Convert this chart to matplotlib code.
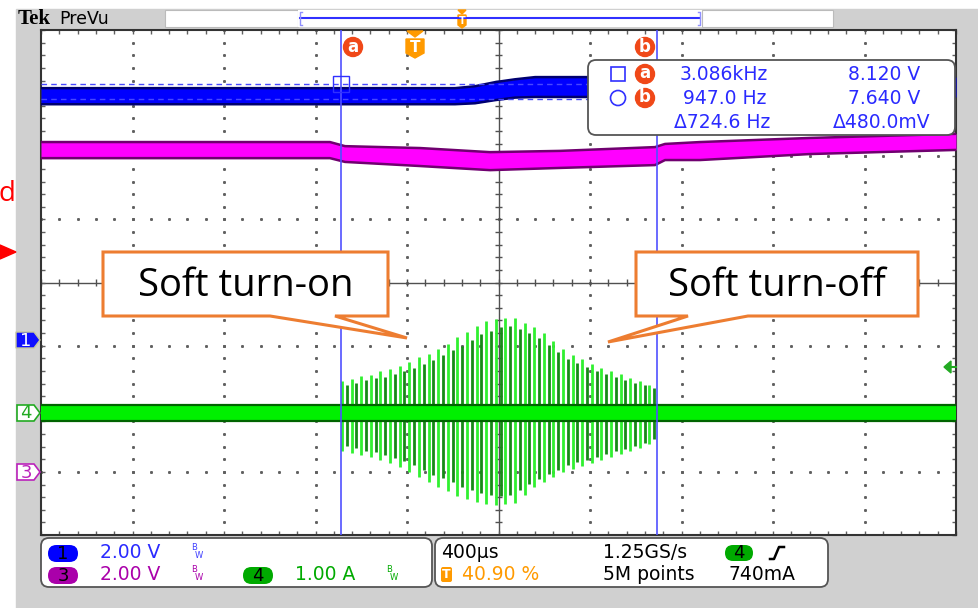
import numpy as np
import matplotlib.pyplot as plt
from matplotlib.patches import Polygon, FancyBboxPatch, Circle, Rectangle

# ----- datos -----
TIME_PER_DIV = 400.0     # us/div
TRIG_POS = 40.90         # % de pantalla
CH_SCALE = {1: 2.0, 3: 2.0, 4: 1.0}          # V/div, V/div, A/div
CH_OFFSET = {1: -0.911, 3: -3.0, 4: -2.067}  # div

# canal 1 (azul), banda de ruido: tiempo [us], borde sup/inf [V]
ch1_t = [-1636, 174, 261, 349, 436, 524, 633, 2364]
ch1_top = [7.98, 7.98, 8.04, 8.17, 8.26, 8.33, 8.33, 8.33]
ch1_bot = [7.47, 7.47, 7.50, 7.60, 7.68, 7.70, 7.70, 7.70]

# canal 3 (magenta)
ch3_t = [-1636, -373, -307, 21, 327, 633, 1048, 1092, 1245, 1726, 2364]
ch3_top = [10.45, 10.45, 10.32, 10.26, 10.13, 10.17, 10.29, 10.39, 10.45, 10.58, 10.71]
ch3_bot = [9.94, 9.94, 9.82, 9.69, 9.56, 9.63, 9.72, 9.88, 9.88, 10.07, 10.20]

# canal 4 (verde, corriente), linea base
ch4_t = [-1636, 2364]
ch4_top = [0.13, 0.13]
ch4_bot = [-0.13, -0.13]

# pulsos de la rafaga: tiempo [us], pico superior / inferior [A]
burst_t = [-320, -299, -278, -257, -236, -215, -194, -173, -152, -131, -110,
           -89, -68, -47, -26, -5, 16, 37, 58, 79, 100, 121, 142, 163, 184,
           205, 226, 247, 268, 289, 310, 331, 352, 373, 394, 415, 436, 457,
           478, 499, 520, 541, 562, 583, 604, 625, 646, 667, 688, 709, 730,
           751, 772, 793, 814, 835, 856, 877, 898, 919, 940, 961, 982, 1003,
           1024, 1045]
burst_up = [0.50, 0.44, 0.54, 0.47, 0.58, 0.52, 0.60, 0.55, 0.66, 0.57, 0.70,
            0.62, 0.74, 0.66, 0.81, 0.72, 0.88, 0.78, 0.94, 0.84, 1.01, 0.92,
            1.10, 0.99, 1.20, 1.06, 1.29, 1.15, 1.37, 1.25, 1.45, 1.30, 1.49,
            1.36, 1.51, 1.38, 1.50, 1.33, 1.43, 1.26, 1.36, 1.18, 1.26, 1.08,
            1.14, 0.97, 1.02, 0.86, 0.92, 0.79, 0.85, 0.73, 0.78, 0.66, 0.71,
            0.62, 0.66, 0.57, 0.61, 0.53, 0.56, 0.48, 0.50, 0.44, 0.45, 0.40]
burst_low = [-0.60, -0.52, -0.63, -0.56, -0.66, -0.60, -0.70, -0.62, -0.75,
             -0.66, -0.80, -0.71, -0.86, -0.76, -0.93, -0.83, -1.01, -0.90,
             -1.09, -0.98, -1.17, -1.03, -1.24, -1.10, -1.31, -1.17, -1.37,
             -1.22, -1.41, -1.27, -1.44, -1.30, -1.45, -1.31, -1.44, -1.30,
             -1.42, -1.22, -1.30, -1.12, -1.18, -1.04, -1.10, -0.96, -1.02,
             -0.90, -0.94, -0.82, -0.88, -0.78, -0.84, -0.74, -0.79, -0.70,
             -0.75, -0.65, -0.70, -0.61, -0.65, -0.57, -0.60, -0.52, -0.55,
             -0.47, -0.49, -0.42]

# cursores
cursor_t = [-324, 1056]
cursor_v = [8.120, 7.640]
cursor_names = ['a', 'b']
readout_rows = [('3.086kHz', '8.120 V'), ('947.0 Hz', '7.640 V'), ('\u0394724.6 Hz', '\u0394480.0mV')]

callouts = ['Soft turn-on', 'Soft turn-off']

# barra de estado
ch_labels = [('1', '2.00 V'), ('3', '2.00 V'), ('4', '1.00 A')]
timebase = '400\u00b5s'
trig_pct = '40.90 %'
sample_rate = '1.25GS/s'
record_len = '5M points'
trig_level = '740mA'

# colores
BLUE = '#0000ff'
MAGENTA = '#ff00ff'
GREEN = '#00f000'
ORANGE = '#ed7d31'
TEK_ORANGE = '#ff9a00'
CURSOR_RED = '#f04818'
GRAY_BG = '#d0d0d0'


def xdiv(t):
    return np.asarray(t, dtype=float) / TIME_PER_DIV + TRIG_POS / 10.0


def ydiv(v, ch):
    return np.asarray(v, dtype=float) / CH_SCALE[ch] + CH_OFFSET[ch]


W, H = 979, 608
fig = plt.figure(figsize=(W / 100, H / 100), dpi=100)
fig.patch.set_facecolor('white')

# lienzo de fondo en pixeles
bg = fig.add_axes([0, 0, 1, 1], zorder=0)
bg.set_xlim(0, W)
bg.set_ylim(H, 0)
bg.axis('off')
bg.add_patch(Rectangle((16, 9), W - 16, H - 9, color=GRAY_BG))

# ----- pantalla del osciloscopio -----
ax = fig.add_axes([41 / W, (H - 535) / H, 915 / W, 505 / H], zorder=2)
ax.set_xlim(0, 10)
ax.set_ylim(-4, 4)
ax.set_facecolor('white')
minor_x = np.arange(0, 10.001, 0.2)
minor_y = np.arange(-4, 4.001, 0.2)
ax.set_xticks(minor_x)
ax.set_yticks(minor_y)
ax.tick_params(direction='in', length=3, width=1, color='#606060',
               top=True, right=True, labelbottom=False, labelleft=False)
for s in ax.spines.values():
    s.set_color('#333333')
    s.set_linewidth(1.5)

for i in range(1, 10):
    if i == 5:
        continue
    ax.plot(np.full_like(minor_y, i), minor_y, ls='none', marker='s', ms=1.1,
            color='#606060', zorder=1)
for j in range(-3, 4):
    if j == 0:
        continue
    ax.plot(minor_x, np.full_like(minor_x, j), ls='none', marker='s', ms=1.1,
            color='#606060', zorder=1)
ax.axhline(0, color='#505050', lw=1, zorder=1)
ax.axvline(5, color='#505050', lw=1, zorder=1)
ax.vlines(minor_x, -0.05, 0.05, color='#505050', lw=1, zorder=1)
ax.hlines(minor_y, 4.965, 5.035, color='#505050', lw=1, zorder=1)

# trazas
x1 = xdiv(ch1_t)
ax.fill_between(x1, ydiv(ch1_bot, 1), ydiv(ch1_top, 1), color=BLUE, lw=0, zorder=3)
ax.plot(x1, ydiv(ch1_top, 1), color='#000070', lw=1.8, zorder=3)
ax.plot(x1, ydiv(ch1_bot, 1), color='#000070', lw=1.8, zorder=3)

x3 = xdiv(ch3_t)
ax.fill_between(x3, ydiv(ch3_bot, 3), ydiv(ch3_top, 3), color=MAGENTA, lw=0, zorder=3)
ax.plot(x3, ydiv(ch3_top, 3), color='#700070', lw=1.8, zorder=3)
ax.plot(x3, ydiv(ch3_bot, 3), color='#700070', lw=1.8, zorder=3)

xb = xdiv(burst_t)
shade = ['#30f030' if k % 2 == 0 else '#168a16' for k in range(len(burst_t))]
ax.vlines(xb, ydiv(burst_low, 4), ydiv(burst_up, 4), colors=shade, lw=2.0, zorder=3)

x4 = xdiv(ch4_t)
ax.fill_between(x4, ydiv(ch4_bot, 4), ydiv(ch4_top, 4), color=GREEN, lw=0, zorder=4)
ax.plot(x4, ydiv(ch4_top, 4), color='#006400', lw=1.6, zorder=4)
ax.plot(x4, ydiv(ch4_bot, 4), color='#006400', lw=1.6, zorder=4)

# cursores
for t in cursor_t:
    ax.axvline(xdiv(t), color='#5050ff', lw=1.2, zorder=5)
for v in cursor_v:
    ax.axhline(ydiv(v, 1), color='#4848ff', lw=1, ls=(0, (4, 3)), zorder=5)
ax.plot(xdiv(cursor_t[0]), ydiv(cursor_v[0], 1), marker='s', ms=11, mfc='none',
        mec='#3030ff', mew=1, zorder=5)

# ----- capa superior en pixeles -----
ov = fig.add_axes([0, 0, 1, 1], zorder=5)
ov.set_xlim(0, W)
ov.set_ylim(H, 0)
ov.patch.set_alpha(0)
ov.axis('off')


def tek_text(x, y, s, color='black', size=13.5, ha='left', **kw):
    ov.text(x, y, s, color=color, fontsize=size, ha=ha, va='center',
            family='DejaVu Sans', **kw)


def pill(cx, cy, w, h, fc, label):
    ov.add_patch(FancyBboxPatch((cx - w / 2, cy - h / 2), w, h,
                                boxstyle='round,pad=0,rounding_size=%g' % (h / 2),
                                fc=fc, ec='none'))
    tek_text(cx, cy + 0.5, label, size=13, ha='center')


def rounded_box(x0, y0, x1, y1):
    ov.add_patch(FancyBboxPatch((x0, y0), x1 - x0, y1 - y0,
                                boxstyle='round,pad=0,rounding_size=8',
                                fc='white', ec='#555555', lw=1.3))


# barra superior
ov.text(18, 19, 'Tek', fontsize=15, fontweight='bold', family='Liberation Serif',
        va='center', ha='left', color='black')
tek_text(59, 19, 'PreVu', size=12.5)
ov.add_patch(Rectangle((165, 10), 133, 17, fc='white', ec='#bbbbbb', lw=0.8))
ov.add_patch(Rectangle((298, 10), 404, 17, fc='white', ec='none'))
ov.plot([300, 700], [18, 18], color='#3030ff', lw=1.5)
ov.plot([302, 300, 300, 302], [12, 12, 25, 25], color='#9090ff', lw=1)
ov.plot([698, 700, 700, 698], [12, 12, 25, 25], color='#9090ff', lw=1)
ov.add_patch(Rectangle((702, 10), 131, 17, fc='white', ec='#bbbbbb', lw=0.8))
ov.add_patch(Polygon([(458, 10), (466, 10), (462, 14)], color=TEK_ORANGE))
ov.add_patch(Polygon([(458, 15), (466, 15), (466, 25), (462, 28), (458, 25)], color=TEK_ORANGE))
ov.text(462, 20.5, 'T', fontsize=7, fontweight='bold', color='white', ha='center', va='center')

# marcador de disparo y cursores
ov.add_patch(Polygon([(407, 31), (423, 31), (415, 37)], color=TEK_ORANGE))
ov.add_patch(Polygon([(406, 39), (424, 39), (424, 53), (415, 58), (406, 53)], color=TEK_ORANGE))
ov.text(415, 47, 'T', fontsize=11, fontweight='bold', color='white', ha='center', va='center')
for cx, name in zip([353, 645], cursor_names):
    ov.add_patch(Circle((cx, 47), 9.5, color=CURSOR_RED))
    ov.text(cx, 46.5, name, fontsize=12, fontweight='bold', color='white', ha='center', va='center')

# lectura de cursores
rounded_box(588, 60, 955, 135)
ov.add_patch(Rectangle((611, 67), 14, 14, fc='none', ec='#3030ff', lw=1.2))
ov.add_patch(Circle((618, 98), 7.5, fc='none', ec='#3030ff', lw=1.2))
for cy, name in zip([74, 98], cursor_names):
    ov.add_patch(Circle((645, cy), 9.5, color=CURSOR_RED))
    ov.text(645, cy - 0.5, name, fontsize=12, fontweight='bold', color='white', ha='center', va='center')
for (left, right), cy, lx, rx in zip(readout_rows, [74, 98, 122], [680, 683, 674], [848, 848, 833]):
    tek_text(lx, cy, left, color='#2a2aff')
    tek_text(rx, cy, right, color='#2a2aff')

# globos de texto
on_poly = [(103, 252), (388, 252), (388, 316), (335, 316), (407, 338), (270, 316), (103, 316)]
off_poly = [(636, 252), (918, 252), (918, 316), (748, 316), (608, 342), (688, 316), (636, 316)]
for poly, label, cx in zip([on_poly, off_poly], callouts, [246, 777]):
    ov.add_patch(Polygon(poly, closed=True, fc='white', ec=ORANGE, lw=2.2, joinstyle='miter'))
    ov.text(cx, 286, label, fontsize=27.5, family='Open Sans', color='black',
            ha='center', va='center')

# marcadores de canal a la izquierda
ov.add_patch(Polygon([(16, 332), (34, 332), (40, 340), (34, 348), (16, 348)],
                     fc='#1010ff', ec='#c8c8a0', lw=1))
ov.text(26, 340.5, '1', fontsize=13, color='white', ha='center', va='center')
for cy, col, lab in [(413, '#22aa22', '4'), (472, '#bb22bb', '3')]:
    ov.add_patch(Polygon([(17, cy - 8), (34, cy - 8), (40, cy), (34, cy + 8), (17, cy + 8)],
                         fc='white', ec=col, lw=1.2))
    ov.text(26, cy + 0.5, lab, fontsize=13, color=col, ha='center', va='center')

# nivel de disparo (derecha)
ov.add_patch(Polygon([(944, 367), (951, 361), (951, 373)], color='#22aa22'))
ov.plot([950, 956], [367, 367], color='#22aa22', lw=1.5)

# restos rojos en el borde izquierdo
ov.text(15, 194, 'd', fontsize=20, family='Open Sans', color='red', ha='right', va='center')
ov.add_patch(Polygon([(0, 245), (16, 252), (0, 259)], color='red'))

# ----- barra de estado -----
rounded_box(41, 538, 432, 587)
rounded_box(435, 538, 828, 587)
pill(63, 553.5, 30, 17, '#0000ff', ch_labels[0][0])
tek_text(100, 553, ch_labels[0][1], color='#2a2aff')
pill(63, 575.5, 30, 17, '#aa00aa', ch_labels[1][0])
tek_text(100, 575, ch_labels[1][1], color='#aa00aa')
pill(258, 575.5, 30, 17, '#00aa00', ch_labels[2][0])
tek_text(295, 575, ch_labels[2][1], color='#00aa00')
for bx, by, col in [(191, 548, '#4040ff'), (191, 570, '#aa00aa'), (386, 570, '#00aa00')]:
    tek_text(bx, by, 'B', color=col, size=6)
    tek_text(bx + 4, by + 8, 'W', color=col, size=6)

tek_text(441, 553, timebase)
ov.add_patch(FancyBboxPatch((441, 567), 11, 15, boxstyle='round,pad=0,rounding_size=2',
                            fc=TEK_ORANGE, ec='none'))
ov.text(446.5, 575, 'T', fontsize=9, fontweight='bold', color='white', ha='center', va='center')
tek_text(462, 575, trig_pct, color=TEK_ORANGE)
tek_text(603, 553, sample_rate)
tek_text(603, 575, record_len)
pill(739, 553, 28, 16, '#00aa00', '4')
ov.plot([770, 774, 779, 784], [559, 559, 547, 547], color='black', lw=1.8)
tek_text(729, 575, trig_level)

fig.savefig('out.png', dpi=100)
